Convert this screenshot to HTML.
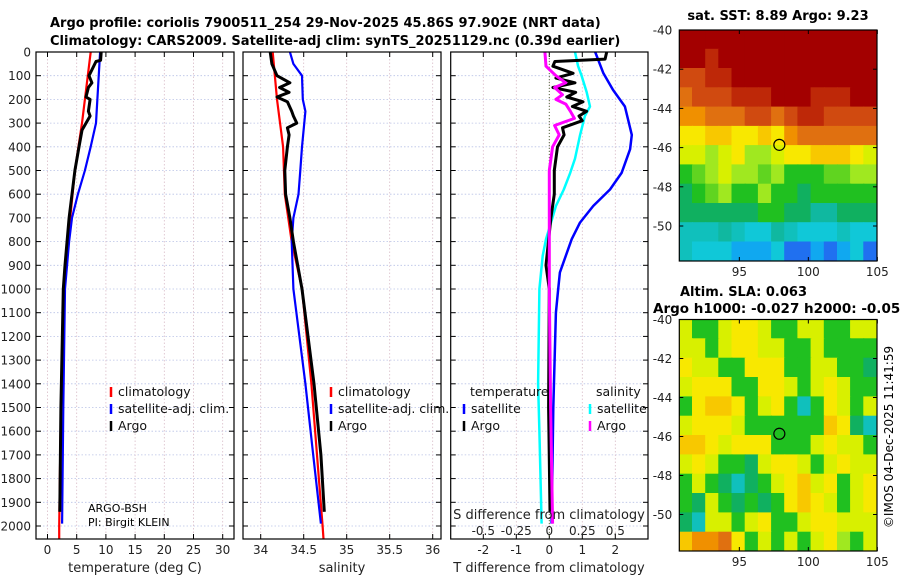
<!DOCTYPE html>
<html><head><meta charset="utf-8">
<style>
html,body{margin:0;padding:0;background:#fff;}
svg{display:block;font-family:"DejaVu Sans","Liberation Sans",sans-serif;}
</style></head>
<body>
<svg id="fig" width="900" height="580" viewBox="0 0 900 580" xmlns="http://www.w3.org/2000/svg">
<defs>
<clipPath id="c1"><rect x="36" y="52" width="198" height="487"/></clipPath>
<clipPath id="c2"><rect x="243" y="52" width="198" height="487"/></clipPath>
<clipPath id="c3"><rect x="450.7" y="52" width="197.3" height="487"/></clipPath>
<clipPath id="cm1"><rect x="679.3" y="30" width="197.7" height="231"/></clipPath>
<clipPath id="cm2"><rect x="679.3" y="319.5" width="197.7" height="231.5"/></clipPath>
</defs>
<g id="root"></g>
<text x="50" y="27" font-size="13" font-weight="bold">Argo profile: coriolis 7900511_254 29-Nov-2025 45.86S 97.902E (NRT data)</text>
<text x="50" y="45" font-size="13" font-weight="bold">Climatology: CARS2009. Satellite-adj clim: synTS_20251129.nc (0.39d earlier)</text>
<text x="778" y="20" font-size="13" font-weight="bold" text-anchor="middle">sat. SST: 8.89 Argo: 9.23</text>
<text x="680" y="296" font-size="13" font-weight="bold">Altim. SLA: 0.063</text>
<text x="653" y="313" font-size="13.5" font-weight="bold">Argo h1000: -0.027 h2000: -0.058</text>
<text transform="translate(893,437) rotate(-90)" font-size="12" text-anchor="middle">©IMOS 04-Dec-2025 11:41:59</text>
<text x="135" y="572" font-size="13" text-anchor="middle" fill="#222">temperature (deg C)</text>
<text x="342" y="572" font-size="13" text-anchor="middle" fill="#222">salinity</text>
<text x="549" y="572" font-size="13" text-anchor="middle" fill="#222">T difference from climatology</text>
<text x="549" y="519" font-size="13" text-anchor="middle" fill="#222">S difference from climatology</text>
<text x="88" y="512" font-size="11">ARGO-BSH</text>
<text x="88" y="526" font-size="11">PI: Birgit KLEIN</text>
</svg>
<script>
// ---------- data ----------
const depthTicks=[0,100,200,300,400,500,600,700,800,900,1000,1100,1200,1300,1400,1500,1600,1700,1800,1900,2000];
const tempTicks=[0,5,10,15,20,25,30];
const salTicks=[34,34.5,35,35.5,36];
const tdiffTicks=[-2,-1,0,1,2];
const sdiffTicks=[-0.5,-0.25,0,0.25,0.5];
const sdiffTickLabels=["-0.5","-0.25","0","0.25","0.5"];
const latTicks=[-40,-42,-44,-46,-48,-50];
const lonTicks=[95,100,105];

const climTDepth=[0,300,500,800,1000,1500,2000,2055];
const climT=[7.4,5.9,4.7,3.5,2.8,2.3,2.0,2.0];
const satTDepth=[0,300,400,500,600,700,800,1000,1500,1990];
const satT=[9.0,8.3,7.4,6.4,5.2,4.2,3.7,3.0,2.7,2.5];
const argoTDepth=[0,35,40,100,130,150,190,200,250,270,300,330,400,500,700,900,1000,1500,1940];
const argoT=[9.2,9.1,8.3,7.1,7.6,7.0,6.6,7.3,7.0,7.3,6.6,5.9,5.4,4.7,3.7,3.0,2.7,2.3,2.1];

const climSDepth=[0,200,400,600,800,1000,1400,2000,2055];
const climS=[34.14,34.19,34.26,34.28,34.36,34.48,34.59,34.72,34.73];
const satSDepth=[0,50,100,200,250,400,500,600,700,800,1000,1400,1700,1990];
const satS=[34.34,34.38,34.48,34.49,34.52,34.48,34.46,34.44,34.38,34.36,34.38,34.52,34.61,34.70];
const argoSDepth=[0,50,100,130,150,170,190,210,250,270,300,320,350,400,500,600,700,800,1000,1400,1700,1940];
const argoS=[34.11,34.13,34.19,34.34,34.22,34.33,34.19,34.31,34.36,34.38,34.42,34.31,34.33,34.31,34.28,34.29,34.34,34.38,34.48,34.62,34.70,34.74];

const satTdDepth=[0,90,160,230,350,410,510,580,650,720,790,930,1000,1100,1500,1990];
const satTd=[1.39,1.64,1.93,2.29,2.5,2.45,2.19,1.84,1.33,0.93,0.68,0.32,0.27,0.2,0.12,0.07];
const argoTdDepth=[0,30,40,60,90,110,130,150,170,190,210,230,250,270,290,320,350,400,500,600,700,900,1000,1500,1940];
const argoTd=[1.74,1.69,0.17,0.11,0.72,0.2,0.78,0.11,0.8,0.53,1.02,0.7,1.13,0.9,1.0,0.4,0.45,0.25,0.15,0.15,0.05,-0.1,0.0,-0.02,0.02];
const satSdDepth=[0,60,100,170,230,270,350,450,510,580,650,720,790,860,1000,1400,1600,1990];
const satSd=[0.195,0.218,0.245,0.283,0.308,0.27,0.233,0.195,0.158,0.11,0.05,0.013,-0.025,-0.05,-0.075,-0.085,-0.075,-0.058];
const argoSdDepth=[0,60,100,130,150,180,200,220,250,280,310,350,400,500,700,1000,1500,1990];
const argoSd=[-0.033,-0.025,0.05,0.125,0.04,0.1,0.05,0.125,0.16,0.19,0.04,0.075,0.025,0.0,0.0,0.0,0.01,0.025];

const sstGrid=[
[10,10,10,10,10,10,10,10,10,10,10,10,10,10,10],
[10,10,9.5,10,10,10,10,10,10,10,10,10,10,10,10],
[9,9,9.5,9.5,10,10,10,10,10,10,10,10,10,10,10],
[8.5,9,9,9,9.5,9.5,9.5,10,10,10,9.5,9.5,9.5,10,10],
[8,8,8.5,8.5,8.5,9,9,8.5,9,9.5,9.5,9,9,9,9],
[7,7,7.5,7.5,7,7,7.5,7,8,8.5,8.5,8.5,8.5,8.5,8.5],
[6.5,6.5,6,6.5,7,6,6,6.5,7,7,7.5,7.5,7.5,7,6.5],
[5,5.5,6,6.5,6,6,5.5,6,5,5,5,5.5,5.5,6,6],
[4.5,5,5.5,6,5,5,6,5,5,4.5,5,5,5,5,5],
[4.5,4.5,4.5,4.5,4.5,4.5,5,5,4.5,4.5,4,4,4.5,4.5,4.5],
[3.5,3.5,3.5,4,3.5,3,3,4,3.5,3,3,3,3.5,3,3],
[3.5,3,3,3,2.5,2.5,2.5,3,2,2,2.5,2,2.5,3,2]];
const slaGrid=[
[6.5,5,5,6.5,7,7,6.5,5,5,6.5,6.5,5,5,6.5,6.5],
[6.5,6.5,5,6.5,7,7,6.5,6.5,5,5,6.5,5,5,5,5],
[7,6.5,6.5,5,5,7,7,7,5,5,6.5,6.5,5,5,4.5],
[6.5,7,7,7,5,5,7,7,6.5,5,6.5,7,6.5,5,5],
[5,7,7.5,7.5,7,5,6.5,7,5,3.5,5,7,6.5,5,6.5],
[6.5,7,7,7,6.5,5,5,5,5,5,5,7.5,7,4.5,3.5],
[7.5,7.5,7,6.5,7,7,7,5,5,5,6.5,7,6.5,6.5,5],
[6.5,7,6.5,5,5,4.5,6.5,7,7,6.5,5,6.5,7,6.5,6.5],
[5,6.5,5,4.5,3.5,4.5,5,6.5,7,7.5,6.5,7,5,6.5,7],
[5,4.5,6.5,5,4.5,5,4.5,5,7,7.5,7,6.5,5,6.5,7],
[4.5,3.5,6.5,6.5,5,6.5,7,5,5,6.5,7,7,6.5,6.5,6.5],
[7.5,8,8,8.5,7,5,6.5,5,6.5,5,6.5,7,6,5,6.5]];
const argoLon=[97.9];
const argoLat=[-45.86];

// ---------- helpers ----------
const NS="http://www.w3.org/2000/svg";
const root=document.getElementById('root');
function mk(tag,attrs,parent){const e=document.createElementNS(NS,tag);for(const k in attrs)e.setAttribute(k,attrs[k]);(parent||root).appendChild(e);return e;}
const yD=d=>52+0.237*d;
const xT=t=>47.5+5.84*t;
const xS=s=>260.7+86*(s-34);
const xD=t=>549.3+33*t;
const xDs=s=>xD(4*s);
const PTOP=52,PBOT=539;
const panels=[{x0:36,x1:234},{x0:243,x1:441},{x0:450.7,x1:648}];

// grids
panels.forEach((p,i)=>{
  depthTicks.forEach(d=>{
    const l=mk('line',{x1:p.x0,x2:p.x1,y1:yD(d),y2:yD(d),stroke:'#b9c2e6','stroke-width':0.8,'stroke-dasharray':'1.5,2'});
    
    
  });
});
function vgrid(vals,fx,p){vals.forEach(v=>{const l=mk('line',{x1:fx(v),x2:fx(v),y1:PTOP,y2:PBOT,stroke:'#d9bcc8','stroke-width':0.8,'stroke-dasharray':'1.5,2'});
  
  
  mk('line',{x1:fx(v),x2:fx(v),y1:PBOT,y2:PBOT-5,stroke:'#000'});
  mk('line',{x1:fx(v),x2:fx(v),y1:PTOP,y2:PTOP+5,stroke:'#000'});
});}
vgrid(tempTicks,xT);vgrid(salTicks,xS);vgrid(tdiffTicks,xD);

// zero line panel 3
const z=mk('line',{x1:xD(0),x2:xD(0),y1:PTOP,y2:PBOT,stroke:'#556b40','stroke-width':1,'stroke-dasharray':'1,2'});



// depth tick marks & labels
panels.forEach(p=>{depthTicks.forEach(d=>{
  mk('line',{x1:p.x0,x2:p.x0+5,y1:yD(d),y2:yD(d),stroke:'#000'});
  mk('line',{x1:p.x1,x2:p.x1-5,y1:yD(d),y2:yD(d),stroke:'#000'});
});});
depthTicks.forEach(d=>{
  const t=mk('text',{x:31,y:yD(d)+4.5,'font-size':12,'text-anchor':'end',fill:'#222'});
  t.textContent=d;
  
  
});
function xlabels(vals,fx,labels){vals.forEach((v,i)=>{const t=mk('text',{x:fx(v),y:554,'font-size':12,'text-anchor':'middle',fill:'#222'});t.textContent=labels?labels[i]:v;
  
  });}
xlabels(tempTicks,xT);xlabels(salTicks,xS);xlabels(tdiffTicks,xD);
sdiffTicks.forEach((v,i)=>{const t=mk('text',{x:xDs(v),y:535,'font-size':12,'text-anchor':'middle',fill:'#222'});t.textContent=sdiffTickLabels[i];
  
  });

// lines
function prof(depths,vals,fx,color,w,clip,name){
  const pts=depths.map((d,i)=>fx(vals[i]).toFixed(1)+','+yD(d).toFixed(1)).join(' ');
  const l=mk('polyline',{points:pts,fill:'none',stroke:color,'stroke-width':w,'stroke-linejoin':'round','clip-path':'url(#'+clip+')'});
  
  
}
prof(climTDepth,climT,xT,'#f00',2.2,'c1','climatology-temperature-line');
prof(satTDepth,satT,xT,'#00f',2.2,'c1','satellite-temperature-line');
prof(argoTDepth,argoT,xT,'#000',3,'c1','argo-temperature-line');
prof(climSDepth,climS,xS,'#f00',2.2,'c2','climatology-salinity-line');
prof(satSDepth,satS,xS,'#00f',2.2,'c2','satellite-salinity-line');
prof(argoSDepth,argoS,xS,'#000',3,'c2','argo-salinity-line');
prof(satTdDepth,satTd,xD,'#00f',2.5,'c3','satellite-t-diff-line');
prof(satSdDepth,satSd,xDs,'#00ffff',2.5,'c3','satellite-s-diff-line');
prof(argoTdDepth,argoTd,xD,'#000',3,'c3','argo-t-diff-line');
prof(argoSdDepth,argoSd,xDs,'#ff00ff',3,'c3','argo-s-diff-line');

// panel frames
panels.forEach(p=>{const r=mk('rect',{x:p.x0,y:PTOP,width:p.x1-p.x0,height:PBOT-PTOP,fill:'none',stroke:'#000','stroke-width':1.2});
  
  });

// legends
function legend(x,y,color,label,name){
  mk('line',{x1:x,x2:x,y1:y-9,y2:y+1,stroke:color,'stroke-width':2.5});
  const t=mk('text',{x:x+7,y:y,'font-size':12.5,fill:'#111'});t.textContent=label;
  
  
}
legend(111,396,'#f00','climatology','legend-climatology');
legend(111,413,'#00f','satellite-adj. clim.','legend-satellite-adj');
legend(111,430,'#000','Argo','legend-argo');
legend(331,396,'#f00','climatology','legend-climatology');
legend(331,413,'#00f','satellite-adj. clim.','legend-satellite-adj');
legend(331,430,'#000','Argo','legend-argo');
{const t=mk('text',{x:470,y:396,'font-size':12.5,fill:'#111'});t.textContent='temperature';
 
 }
{const t=mk('text',{x:596,y:396,'font-size':12.5,fill:'#111'});t.textContent='salinity';
 
 }
legend(464,413,'#00f','satellite','legend-t-satellite');
legend(464,430,'#000','Argo','legend-t-argo');
legend(590,413,'#00ffff','satellite','legend-s-satellite');
legend(590,430,'#ff00ff','Argo','legend-s-argo');

// ---------- maps ----------
const stops=[[1,[0,16,192]],[2,[32,112,240]],[2.5,[16,168,240]],[3,[16,200,216]],[4,[16,184,160]],[4.5,[16,176,96]],[5,[32,192,32]],[6,[160,232,32]],[6.5,[216,240,0]],[7,[248,232,0]],[7.5,[248,200,0]],[8,[240,144,0]],[8.5,[224,112,16]],[9,[208,74,16]],[9.5,[190,40,8]],[10,[163,0,0]]];
function cmap(v){
  if(v<=stops[0][0])return 'rgb('+stops[0][1]+')';
  for(let i=1;i<stops.length;i++){if(v<=stops[i][0]){const a=stops[i-1],b=stops[i],f=(v-a[0])/(b[0]-a[0]);
    return 'rgb('+a[1].map((c,k)=>Math.round(c+(b[1][k]-c)*f)).join(',')+')';}}
  return 'rgb('+stops[stops.length-1][1]+')';
}
function drawMap(grid,m,clip,name){
  const g=mk('g',{'clip-path':'url(#'+clip+')'});
  
  
  const nr=grid.length,nc=grid[0].length;
  const cw=(m.x1-m.x0)/nc, ch=(m.latB-m.latT)/nr;
  grid.forEach((row,r)=>row.forEach((v,c)=>{
    const y0=m.yLat(m.latT+ch*r), y1=m.yLat(m.latT+ch*(r+1));
    const cell=mk('rect',{x:(m.x0+c*cw-0.5).toFixed(1),y:(y0-0.5).toFixed(1),width:(cw+1).toFixed(1),height:(y1-y0+1).toFixed(1),fill:cmap(v)},g);
    
    
  }));
  argoLon.forEach((lo,i)=>{
    const c=mk('circle',{cx:m.xLon(lo),cy:m.yLat(argoLat[i]),r:5.5,fill:'none',stroke:'#000','stroke-width':1.2});
    
    
  });
  const fr=mk('rect',{x:m.x0,y:m.y0,width:m.x1-m.x0,height:m.y1-m.y0,fill:'none',stroke:'#000','stroke-width':1.2});
  
  
  latTicks.forEach(la=>{
    const y=m.yLat(la);
    mk('line',{x1:m.x0,x2:m.x0+4,y1:y,y2:y,stroke:'#000'});
    mk('line',{x1:m.x1,x2:m.x1-4,y1:y,y2:y,stroke:'#000'});
    const t=mk('text',{x:m.x0-7,y:y+4.5,'font-size':12,'text-anchor':'end',fill:'#222'});t.textContent=la;
    
    
  });
  lonTicks.forEach(lo=>{
    const x=m.xLon(lo);
    mk('line',{x1:x,x2:x,y1:m.y1,y2:m.y1-4,stroke:'#000'});
    mk('line',{x1:x,x2:x,y1:m.y0,y2:m.y0+4,stroke:'#000'});
    const t=mk('text',{x:x,y:m.y1+15,'font-size':12,'text-anchor':'middle',fill:'#222'});t.textContent=lo;
    
    
  });
}
const lonScale=lo=>679.3+(lo-90.65)*13.8;
const map1={x0:679.3,x1:877,y0:30,y1:261,latT:-40,latB:-51.8,xLon:lonScale,yLat:la=>30+(-40-la)*19.6};
const map2={x0:679.3,x1:877,y0:319.5,y1:551,latT:-40,latB:-51.9,xLon:lonScale,yLat:la=>319.5+(-40-la)*19.5};
drawMap(sstGrid,map1,'cm1','sst-map');
drawMap(slaGrid,map2,'cm2','sla-map');
</script>
</body></html>
